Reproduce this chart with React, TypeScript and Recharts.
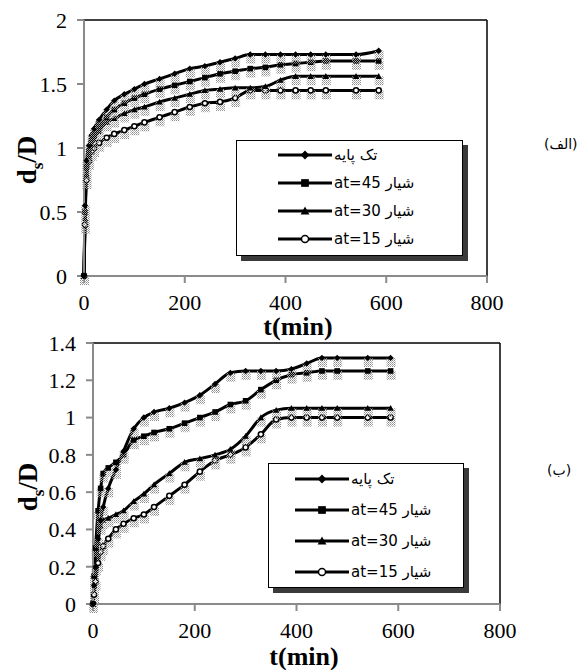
import React from 'react'
import { LineChart, Line, XAxis, YAxis, ReferenceLine } from 'recharts'

// times (min) at which scour depth was read
const timesA = [0, 2, 5, 10, 15, 20, 30, 45, 60, 80, 100, 120, 150, 180, 210, 240, 270, 300, 330, 360, 390, 420, 450, 480, 540, 585]
const timesB = [0, 2, 5, 10, 15, 20, 30, 45, 60, 80, 100, 120, 150, 180, 210, 240, 270, 300, 330, 360, 390, 420, 450, 480, 540, 585]

// panel (الف)
const singleA = [0, 0.55, 0.9, 1.02, 1.1, 1.15, 1.22, 1.3, 1.37, 1.42, 1.46, 1.5, 1.54, 1.58, 1.62, 1.64, 1.67, 1.7, 1.73, 1.73, 1.73, 1.73, 1.73, 1.73, 1.73, 1.76]
const slot45A = [0, 0.5, 0.85, 0.98, 1.06, 1.1, 1.17, 1.24, 1.3, 1.35, 1.39, 1.42, 1.46, 1.49, 1.52, 1.55, 1.58, 1.6, 1.62, 1.63, 1.65, 1.66, 1.67, 1.68, 1.68, 1.68]
const slot30A = [0, 0.45, 0.8, 0.95, 1.02, 1.07, 1.13, 1.2, 1.23, 1.27, 1.3, 1.32, 1.36, 1.39, 1.42, 1.45, 1.46, 1.47, 1.47, 1.48, 1.53, 1.56, 1.56, 1.56, 1.56, 1.56]
const slot15A = [0, 0.4, 0.75, 0.9, 0.97, 1.0, 1.04, 1.08, 1.11, 1.14, 1.17, 1.2, 1.24, 1.28, 1.32, 1.35, 1.36, 1.39, 1.45, 1.45, 1.45, 1.45, 1.45, 1.45, 1.45, 1.45]

// panel (ب)
const singleB = [0, 0.1, 0.2, 0.35, 0.45, 0.52, 0.62, 0.72, 0.82, 0.94, 1.0, 1.03, 1.05, 1.08, 1.12, 1.18, 1.24, 1.25, 1.25, 1.25, 1.26, 1.29, 1.32, 1.32, 1.32, 1.32]
const slot45B = [0, 0.15, 0.3, 0.5, 0.62, 0.7, 0.73, 0.76, 0.8, 0.88, 0.9, 0.92, 0.94, 0.97, 1.0, 1.03, 1.07, 1.09, 1.15, 1.2, 1.23, 1.24, 1.25, 1.25, 1.25, 1.25]
const slot30B = [0, 0.1, 0.2, 0.33, 0.42, 0.45, 0.46, 0.48, 0.5, 0.55, 0.59, 0.64, 0.7, 0.76, 0.78, 0.8, 0.83, 0.9, 1.0, 1.04, 1.05, 1.05, 1.05, 1.05, 1.05, 1.05]
const slot15B = [0, 0.05, 0.12, 0.22, 0.28, 0.31, 0.35, 0.4, 0.43, 0.46, 0.48, 0.52, 0.58, 0.64, 0.71, 0.77, 0.8, 0.84, 0.91, 0.99, 1.0, 1.0, 1.0, 1.0, 1.0, 1.0]

const seriesNames = ['تک پایه', 'شیار at=45', 'شیار at=30', 'شیار at=15']
const markerKinds = ['diamond', 'square', 'triangle', 'circle']
const xTicks = [0, 200, 400, 600, 800]
const yTicksA = [0, 0.5, 1, 1.5, 2]
const yTicksB = [0, 0.2, 0.4, 0.6, 0.8, 1, 1.2, 1.4]

const SERIF = '"Liberation Serif", "Times New Roman", serif'
const SANS = '"DejaVu Sans", Arial, sans-serif'

function markerShape(kind: string, cx: number, cy: number, s = 1) {
  if (kind === 'diamond') {
    const r = 4 * s
    return <polygon points={`${cx},${cy - r} ${cx + r},${cy} ${cx},${cy + r} ${cx - r},${cy}`} fill="#000" />
  }
  if (kind === 'square') {
    const r = 3.5 * s
    return <rect x={cx - r} y={cy - r} width={r * 2} height={r * 2} fill="#000" />
  }
  if (kind === 'triangle') {
    const r = 4 * s
    return <polygon points={`${cx},${cy - r} ${cx + r},${cy + r * 0.8} ${cx - r},${cy + r * 0.8}`} fill="#000" />
  }
  return <circle cx={cx} cy={cy} r={3.2 * s} fill="#fff" stroke="#000" strokeWidth={1.5} />
}

const makeDot = (kind: string) => (props: any) => {
  const { cx, cy, index } = props
  if (cx == null || cy == null) return <g key={index} />
  return (
    <g key={index}>
      <rect x={cx - 4} y={cy} width={9} height={9} fill="url(#grain)" />
      {markerShape(kind, cx, cy, 0.8)}
    </g>
  )
}

function LegendBox({ left, top, w, h, lineLeft, rowGap, rowTop }: any) {
  return (
    <div style={{ position: 'absolute', left, top, width: w, height: h, border: '1.5px solid #000', background: '#fff', boxShadow: '5px 5px 0 #3a3a3a', boxSizing: 'border-box' }}>
      {seriesNames.map((name, i) => (
        <div key={name} style={{ position: 'absolute', left: lineLeft, top: rowTop + i * rowGap - 10, height: 20, display: 'flex', alignItems: 'center' }}>
          <svg width={54} height={14}>
            <line x1={0} y1={7} x2={54} y2={7} stroke="#000" strokeWidth={3} />
            {markerShape(markerKinds[i], 27, 7, 1.1)}
          </svg>
          <span style={{ direction: 'rtl', fontFamily: SANS, fontSize: 15, marginLeft: 2, whiteSpace: 'nowrap' }}>{name}</span>
        </div>
      ))}
    </div>
  )
}

function Panel({ times, values, yMax, yTicks, height, margin }: any) {
  const data = times.map((t: number, i: number) => ({
    t,
    s0: values[0][i],
    s1: values[1][i],
    s2: values[2][i],
    s3: values[3][i],
  }))
  const tickStyle = { fill: '#000', fontSize: 22, fontFamily: SERIF }
  return (
    <LineChart width={583} height={height} data={data} margin={margin}>
      <defs>
        <pattern id="grain" width="2" height="2" patternUnits="userSpaceOnUse">
          <rect width="1" height="1" fill="#8c8c8c" />
          <rect x="1" y="1" width="1" height="1" fill="#b0b0b0" />
        </pattern>
      </defs>
      <XAxis dataKey="t" type="number" domain={[0, 800]} ticks={xTicks} interval={0} stroke="#8a8a8a" strokeWidth={2} tickSize={7} tickMargin={11} tick={tickStyle} height={30} />
      <YAxis type="number" domain={[0, yMax]} ticks={yTicks} interval={0} stroke="#8a8a8a" strokeWidth={2} tickSize={7} tickMargin={10} tick={tickStyle} width={60} />
      <ReferenceLine y={yMax} stroke="#000" strokeWidth={1.5} />
      <ReferenceLine x={800} stroke="#000" strokeWidth={1.5} />
      {[3, 2, 1, 0].map((i) => (
        <Line key={i} dataKey={`s${i}`} name={seriesNames[i]} type="monotone" stroke="#000" strokeWidth={3} dot={makeDot(markerKinds[i])} activeDot={false} isAnimationActive={false} />
      ))}
    </LineChart>
  )
}

export default function App() {
  return (
    <div style={{ position: 'absolute', left: 0, top: 0, width: 583, height: 670, background: '#fff', overflow: 'hidden' }}>
      <div style={{ position: 'absolute', left: 0, top: 0 }}>
        <Panel
          times={timesA}
          values={[singleA, slot45A, slot30A, slot15A]}
          yMax={2}
          yTicks={yTicksA}
          height={320}
          margin={{ top: 20, right: 96, left: 24, bottom: 14 }}
        />
      </div>
      <div style={{ position: 'absolute', left: 0, top: 320 }}>
        <Panel
          times={timesB}
          values={[singleB, slot45B, slot30B, slot15B]}
          yMax={1.4}
          yTicks={yTicksB}
          height={350}
          margin={{ top: 23, right: 83, left: 33, bottom: 36 }}
        />
      </div>
      <LegendBox left={236} top={140} w={227} h={116} lineLeft={41} rowGap={28} rowTop={14} />
      <LegendBox left={268} top={463} w={196} h={125} lineLeft={26} rowGap={31} rowTop={15} />
      {/* axis titles */}
      <div style={{ position: 'absolute', left: 30, top: 160, transform: 'translate(-50%,-50%) rotate(-90deg)', fontFamily: SERIF, fontWeight: 'bold', fontSize: 27, whiteSpace: 'nowrap' }}>
        d<sub style={{ fontSize: 17 }}>s</sub>/D
      </div>
      <div style={{ position: 'absolute', left: 31, top: 487, transform: 'translate(-50%,-50%) rotate(-90deg)', fontFamily: SERIF, fontWeight: 'bold', fontSize: 27, whiteSpace: 'nowrap' }}>
        d<sub style={{ fontSize: 17 }}>s</sub>/D
      </div>
      <div style={{ position: 'absolute', left: 298, top: 327, transform: 'translate(-50%,-50%)', fontFamily: SERIF, fontWeight: 'bold', fontSize: 26, whiteSpace: 'nowrap', lineHeight: 1 }}>
        t(min)
      </div>
      <div style={{ position: 'absolute', left: 304, top: 657, transform: 'translate(-50%,-50%)', fontFamily: SERIF, fontWeight: 'bold', fontSize: 26, whiteSpace: 'nowrap', lineHeight: 1 }}>
        t(min)
      </div>
      {/* panel labels */}
      <div style={{ position: 'absolute', left: 544, top: 136, direction: 'rtl', fontFamily: SANS, fontSize: 14 }}>(الف)</div>
      <div style={{ position: 'absolute', left: 547, top: 462, direction: 'rtl', fontFamily: SANS, fontSize: 14 }}>(ب)</div>
    </div>
  )
}
